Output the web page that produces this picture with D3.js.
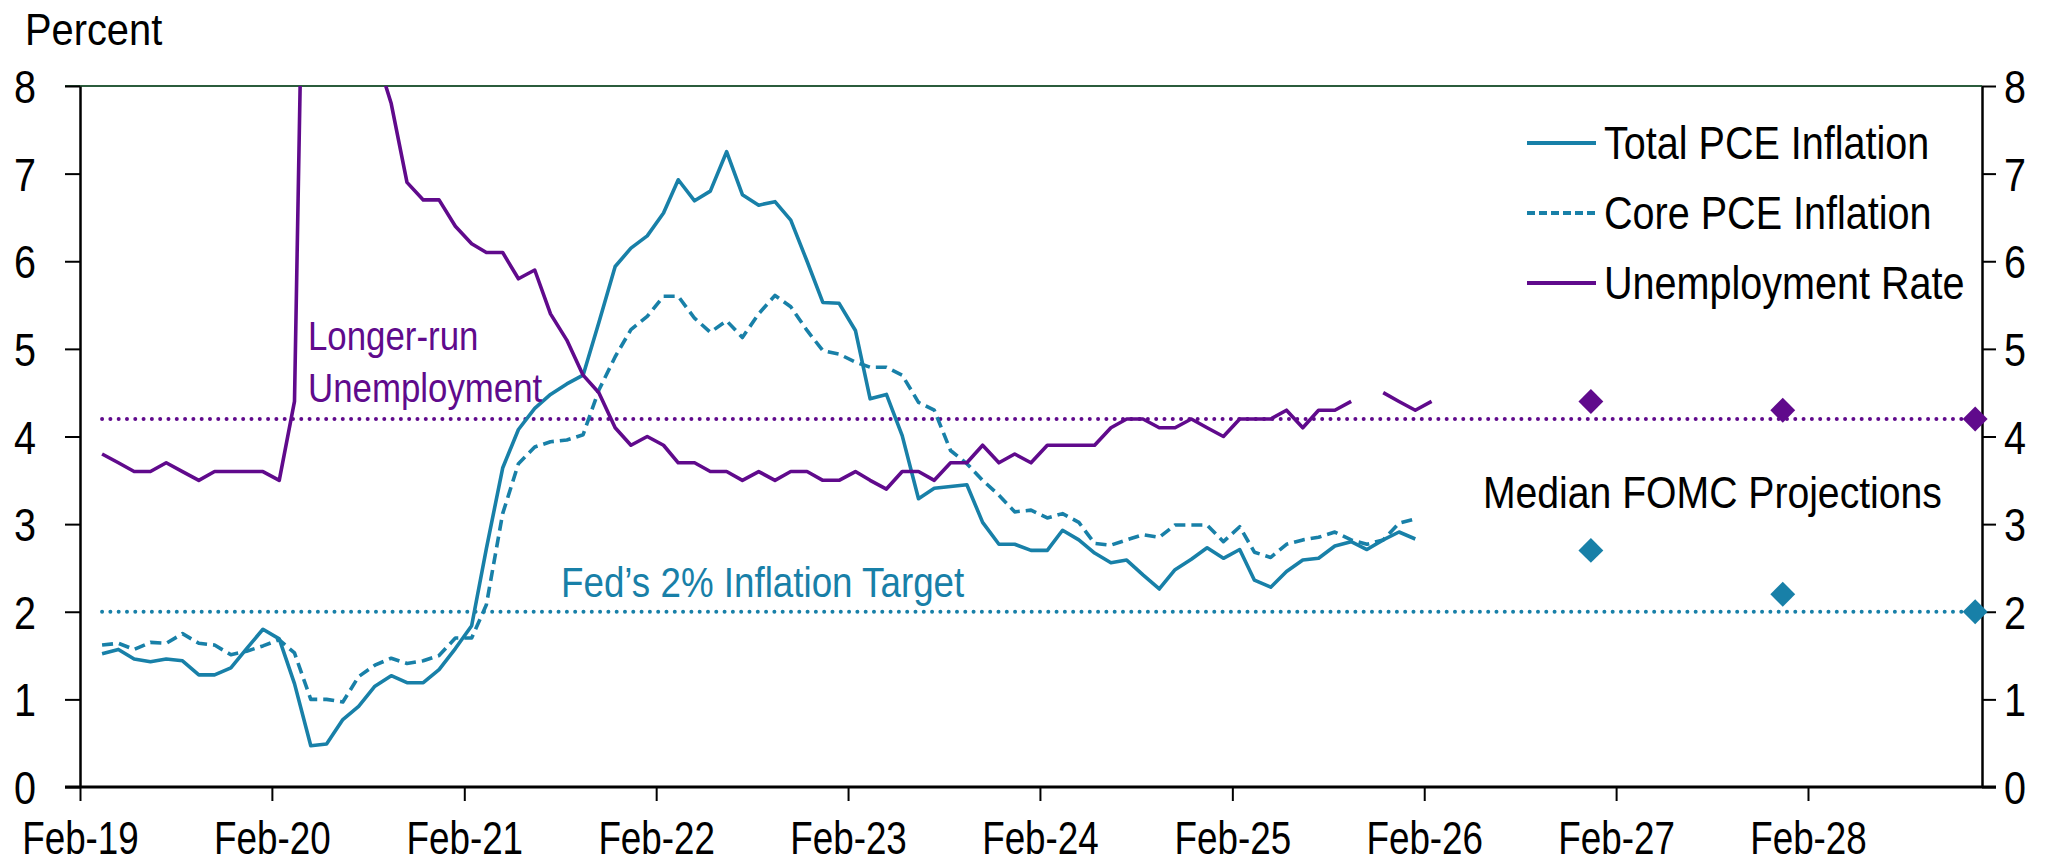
<!DOCTYPE html>
<html>
<head>
<meta charset="utf-8">
<script src="https://cdn.jsdelivr.net/npm/d3@7"></script>
<style>
  html, body { margin: 0; padding: 0; background: #fff; }
  svg { display: block; }
  text { font-family: "Liberation Sans", Arial, Helvetica, sans-serif; }
</style>
</head>
<body>
<svg id="chart" width="2064" height="867"></svg>
<script>
// ---------------- DATA ----------------
// Monthly observations start in March 2019
const firstMonth = { year: 2019, month: 2 }; // 0-based month (March)

const unemploymentRate = [
  3.8, 3.7, 3.6, 3.6, 3.7, 3.6, 3.5, 3.6, 3.6, 3.6,               // 2019 Mar-Dec
  3.6, 3.5, 4.4, 14.8, 13.2, 11.0, 10.2, 8.4, 7.8, 6.9, 6.7, 6.7,  // 2020
  6.4, 6.2, 6.1, 6.1, 5.8, 5.9, 5.4, 5.1, 4.7, 4.5, 4.1, 3.9,      // 2021
  4.0, 3.9, 3.7, 3.7, 3.6, 3.6, 3.5, 3.6, 3.5, 3.6, 3.6, 3.5,      // 2022
  3.5, 3.6, 3.5, 3.4, 3.6, 3.6, 3.5, 3.7, 3.7, 3.9, 3.7, 3.8,      // 2023
  3.7, 3.9, 3.9, 3.9, 3.9, 4.1, 4.2, 4.2, 4.1, 4.1, 4.2, 4.1,      // 2024
  4.0, 4.2, 4.2, 4.2, 4.3, 4.1, 4.3, 4.3, 4.4, null, 4.5, 4.4,     // 2025
  4.3, 4.4                                                         // 2026 Jan-Feb
];

const totalPCE = [
  1.52, 1.57, 1.46, 1.43, 1.46, 1.44, 1.28, 1.28, 1.36, 1.58,              // 2019 Mar-Dec
  1.80, 1.69, 1.18, 0.47, 0.49, 0.77, 0.92, 1.15, 1.27, 1.19, 1.19, 1.34,  // 2020
  1.58, 1.84, 2.72, 3.64, 4.08, 4.32, 4.48, 4.60, 4.70, 5.30, 5.94, 6.15,  // 2021
  6.29, 6.55, 6.93, 6.69, 6.80, 7.25, 6.76, 6.64, 6.68, 6.47, 6.00, 5.53,  // 2022
  5.52, 5.21, 4.43, 4.48, 4.01, 3.29, 3.41, 3.43, 3.45, 3.02, 2.77, 2.77,  // 2023
  2.70, 2.70, 2.93, 2.82, 2.67, 2.56, 2.59, 2.42, 2.26, 2.48, 2.60, 2.73,  // 2024
  2.61, 2.71, 2.36, 2.28, 2.46, 2.59, 2.61, 2.75, 2.80, 2.71, 2.82, 2.91,  // 2025
  2.83                                                                     // 2026 Jan
];

const corePCE = [
  1.62, 1.64, 1.57, 1.65, 1.64, 1.75, 1.64, 1.62, 1.51, 1.55,              // 2019 Mar-Dec
  1.61, 1.68, 1.53, 1.00, 1.00, 0.97, 1.26, 1.39, 1.47, 1.41, 1.44, 1.50,  // 2020
  1.70, 1.70, 2.08, 3.12, 3.69, 3.88, 3.94, 3.96, 4.02, 4.53, 4.91, 5.22,  // 2021
  5.37, 5.60, 5.60, 5.35, 5.19, 5.32, 5.13, 5.40, 5.61, 5.48, 5.21, 4.98,  // 2022
  4.94, 4.85, 4.79, 4.79, 4.70, 4.39, 4.30, 3.84, 3.69, 3.50, 3.33, 3.14,  // 2023
  3.16, 3.07, 3.12, 3.02, 2.78, 2.76, 2.82, 2.88, 2.85, 2.99, 2.99, 2.99,  // 2024
  2.80, 2.97, 2.68, 2.62, 2.77, 2.82, 2.85, 2.91, 2.82, 2.77, 2.82, 3.01,  // 2025
  3.06                                                                     // 2026 Jan
];

// Median FOMC projections (Q4 of each year)
const projectionYears = [2026, 2027, 2028];
const projUnemployment = [4.4, 4.3, 4.2];
const projPCE = [2.7, 2.2, 2.0];

const longerRunUnemployment = 4.2;
const inflationTarget = 2.0;

const yTicks = [0, 1, 2, 3, 4, 5, 6, 7, 8];
const xTickYears = [2019, 2020, 2021, 2022, 2023, 2024, 2025, 2026, 2027, 2028];

const legendLabels = ["Total PCE Inflation", "Core PCE Inflation", "Unemployment Rate"];

// ---------------- CHART ----------------
const TEAL = "#1880A8";
const PURPLE = "#600A8C";
const FONT = '"Liberation Sans", Arial, Helvetica, sans-serif';

const svg = d3.select("#chart");
const L = 80, R = 1982, T = 86, B = 787;

const monthDate = i => new Date(firstMonth.year, firstMonth.month + i, 15);

const x = d3.scaleTime()
  .domain([new Date(2019, 1, 1), new Date(2028, 11, 28)])
  .range([L, R]);
const y = d3.scaleLinear().domain([0, 8]).range([B, T]);

// clip
svg.append("defs").append("clipPath").attr("id", "plotclip")
  .append("rect").attr("x", L).attr("y", T).attr("width", R - L).attr("height", B - T);

function addText(sel, str, px, py, opts) {
  const o = Object.assign({ anchor: "start", color: "#000", fs: 45, sx: 0.87 }, opts || {});
  return sel.append("text")
    .attr("transform", `translate(${px},${py}) scale(${o.sx},1)`)
    .attr("text-anchor", o.anchor)
    .attr("font-size", o.fs)
    .attr("fill", o.color)
    .text(str);
}

// top border
svg.append("line").attr("x1", 65).attr("x2", R).attr("y1", T).attr("y2", T)
  .attr("stroke", "#2B5C3C").attr("stroke-width", 2);

const TICK_FS = 46;

// left axis
const leftAxis = svg.append("g").attr("transform", `translate(${L},0)`)
  .call(d3.axisLeft(y).tickValues(yTicks).tickSize(15).tickSizeOuter(0).tickFormat(d3.format("d")));
leftAxis.select(".domain").attr("stroke", "#000").attr("stroke-width", 2.5);
leftAxis.selectAll(".tick line").attr("stroke", "#000").attr("stroke-width", 2);
leftAxis.selectAll(".tick text")
  .attr("x", null).attr("dy", null)
  .attr("transform", `translate(-44,${TICK_FS * 0.36}) scale(0.86,1)`)
  .attr("text-anchor", "end").attr("font-size", TICK_FS).attr("fill", "#000")
  .style("font-family", FONT);

// right axis
const rightAxis = svg.append("g").attr("transform", `translate(${R},0)`)
  .call(d3.axisRight(y).tickValues(yTicks).tickSize(14).tickSizeOuter(0).tickFormat(d3.format("d")));
rightAxis.select(".domain").attr("stroke", "#000").attr("stroke-width", 2.5);
rightAxis.selectAll(".tick line").attr("stroke", "#000").attr("stroke-width", 2);
rightAxis.selectAll(".tick text")
  .attr("x", null).attr("dy", null)
  .attr("transform", `translate(22,${TICK_FS * 0.36}) scale(0.86,1)`)
  .attr("text-anchor", "start").attr("font-size", TICK_FS).attr("fill", "#000")
  .style("font-family", FONT);

// bottom axis
const bottomAxis = svg.append("g").attr("transform", `translate(0,${B})`)
  .call(d3.axisBottom(x).tickValues(xTickYears.map(yr => new Date(yr, 1, 1)))
    .tickSize(14).tickSizeOuter(0).tickFormat(d3.timeFormat("%b-%y")));
bottomAxis.select(".domain").remove();
bottomAxis.selectAll(".tick line").attr("stroke", "#000").attr("stroke-width", 2);
bottomAxis.selectAll(".tick text")
  .attr("y", null).attr("dy", null)
  .attr("transform", `translate(0,67) scale(0.8,1)`)
  .attr("text-anchor", "middle").attr("font-size", TICK_FS).attr("fill", "#000")
  .style("font-family", FONT);
svg.append("line").attr("x1", 65).attr("x2", R + 14).attr("y1", B).attr("y2", B)
  .attr("stroke", "#000").attr("stroke-width", 3);

// reference dotted lines
const refStart = monthDate(0);
const refEnd = new Date(projectionYears[projectionYears.length - 1], 11, 15);
[[longerRunUnemployment, PURPLE], [inflationTarget, TEAL]].forEach(([v, c]) => {
  svg.append("line")
    .attr("x1", x(refStart)).attr("x2", x(refEnd))
    .attr("y1", y(v)).attr("y2", y(v))
    .attr("stroke", c).attr("stroke-width", 4)
    .attr("stroke-linecap", "round")
    .attr("stroke-dasharray", "0 8.3");
});

// series lines
const plot = svg.append("g").attr("clip-path", "url(#plotclip)");
const lineGen = d3.line()
  .defined(d => d.v !== null)
  .x(d => x(d.date)).y(d => y(d.v));

const toSeries = arr => arr.map((v, i) => ({ date: monthDate(i), v }));

plot.append("path").datum(toSeries(corePCE))
  .attr("d", lineGen).attr("fill", "none")
  .attr("stroke", TEAL).attr("stroke-width", 3.6)
  .attr("stroke-dasharray", "11 6").attr("stroke-linejoin", "round");

plot.append("path").datum(toSeries(totalPCE))
  .attr("d", lineGen).attr("fill", "none")
  .attr("stroke", TEAL).attr("stroke-width", 3.6).attr("stroke-linejoin", "round");

plot.append("path").datum(toSeries(unemploymentRate))
  .attr("d", lineGen).attr("fill", "none")
  .attr("stroke", PURPLE).attr("stroke-width", 3.6).attr("stroke-linejoin", "round");

// projection diamonds
const diamond = d3.symbol().type(d3.symbolSquare).size(310);
projectionYears.forEach((yr, i) => {
  const px = x(new Date(yr, 11, 15));
  svg.append("path").attr("d", diamond())
    .attr("transform", `translate(${px},${y(projUnemployment[i])}) rotate(45)`)
    .attr("fill", PURPLE);
  svg.append("path").attr("d", diamond())
    .attr("transform", `translate(${px},${y(projPCE[i])}) rotate(45)`)
    .attr("fill", TEAL);
});

// annotations
addText(svg, "Percent", 25, 45, { fs: 45, sx: 0.885 });
addText(svg, "Longer-run", 308, 350, { color: PURPLE, fs: 41, sx: 0.85 });
addText(svg, "Unemployment", 308, 402, { color: PURPLE, fs: 41, sx: 0.85 });
addText(svg, "Fed\u2019s 2% Inflation Target", 561, 597, { color: TEAL, fs: 43, sx: 0.855 });
addText(svg, "Median FOMC Projections", 1483, 508, { fs: 45, sx: 0.87 });

// legend
const legendY = [143, 213, 283];
const legendStyles = [
  { c: TEAL, dash: null },
  { c: TEAL, dash: "8 4" },
  { c: PURPLE, dash: null }
];
legendLabels.forEach((lab, i) => {
  const ln = svg.append("line")
    .attr("x1", 1527).attr("x2", 1596)
    .attr("y1", legendY[i]).attr("y2", legendY[i])
    .attr("stroke", legendStyles[i].c).attr("stroke-width", 3.8);
  if (legendStyles[i].dash) ln.attr("stroke-dasharray", legendStyles[i].dash);
  addText(svg, lab, 1604, legendY[i] + 16, { fs: 46, sx: 0.86 });
});
</script>
</body>
</html>
